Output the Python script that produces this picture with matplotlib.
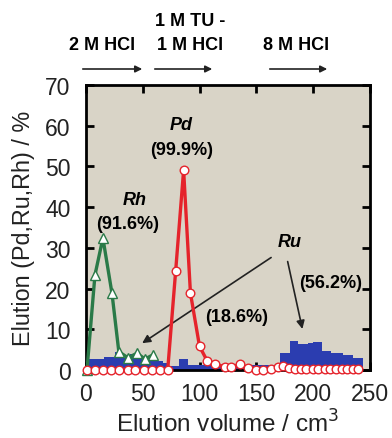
import numpy as np
import matplotlib
matplotlib.use("Agg")
import matplotlib.pyplot as plt

plt.rcParams['font.family'] = ['Liberation Sans', 'DejaVu Sans']

# Pd fractions (elution volume cm3, %)
pd_x = [1, 8, 15, 22, 29, 37, 43, 51, 58, 65, 72, 79, 86, 92, 100, 107, 114, 122, 128,
        136, 143, 150, 156, 163, 169, 173, 179, 184, 189, 194, 200, 204, 210, 215, 220,
        225, 230, 235, 239]
pd_y = [0, 0, 0, 0, 0, 0, 0, 0, 0, 0, 0, 24.3, 49.1, 18.9, 5.8, 2.1, 1.4, 0.8, 0.7,
        1.4, 0.4, 0, 0, 0.2, 0.8, 1.0, 0.6, 0.3, 0.2, 0.2, 0.2, 0.2, 0.2, 0.2, 0.2,
        0.2, 0.2, 0.2, 0.2]

# Rh fractions
rh_x = [1, 8, 15, 23, 29, 37, 45, 52, 59]
rh_y = [0, 23.3, 32.4, 18.8, 4.5, 3.0, 4.1, 2.7, 3.7]

# Ru fractions as step edges
ru_edges = [0, 16, 26, 30, 39, 48, 55, 68, 72, 82, 90, 171, 180, 187, 195, 200, 208,
            216, 226, 235, 244]
ru_y = [2.7, 3.3, 4.5, 2.9, 4.0, 2.9, 2.1, 1.7, 1.0, 2.7, 1.2, 4.1, 7.1, 6.3, 6.6,
        6.8, 4.7, 4.1, 3.6, 3.0]

fig = plt.figure(figsize=(3.92, 4.39), dpi=100)
ax = fig.add_axes([0.219, 0.155, 0.725, 0.649])
ax.set_facecolor('#d9d4c7')

ax.fill_between(ru_edges, ru_y + [ru_y[-1]], step='post', color='#2b3db0',
                linewidth=0, zorder=2)
ax.plot(rh_x, rh_y, color='#2a7a48', lw=2.4, marker='^', ms=6.5, mfc='white',
        mec='#2a7a48', mew=1.0, zorder=3, clip_on=False)
ax.plot(pd_x, pd_y, color='#e5232b', lw=2.4, marker='o', ms=6.2, mfc='white',
        mec='#e5232b', mew=1.0, zorder=4, clip_on=False)

ax.set_xlim(0, 250)
ax.set_ylim(0, 70)
ax.set_xticks([0, 50, 100, 150, 200, 250])
ax.set_yticks(range(0, 71, 10))
ax.tick_params(direction='in', length=6, width=2, labelsize=16.5, top=True, right=True,
               colors='black', labelcolor='#222222')
ax.tick_params(axis='x', pad=9)
ax.tick_params(axis='y', pad=11)
for s in ax.spines.values():
    s.set_linewidth(2)

ax.set_xlabel('Elution volume / cm$^3$', fontsize=17.5, labelpad=3, color='#222222')
ax.set_ylabel('Elution (Pd,Ru,Rh) / %', fontsize=16.8, labelpad=7, color='#222222')

bold = dict(fontsize=13, fontweight='bold', ha='center', va='center')
ax.text(84, 60.2, 'Pd', style='italic', **bold)
ax.text(84, 54.2, '(99.9%)', **bold)
ax.text(43, 41.8, 'Rh', style='italic', **bold)
ax.text(37, 36.0, '(91.6%)', **bold)
ax.text(179, 31.5, 'Ru', style='italic', **bold)
ax.text(133, 13.2, '(18.6%)', **bold)
ax.text(215, 21.6, '(56.2%)', **bold)

ax.annotate('', xy=(47.5, 6.2), xytext=(165, 28),
            arrowprops=dict(arrowstyle='-|>', color='#222222', lw=1.2, mutation_scale=12))
ax.annotate('', xy=(191, 9.4), xytext=(177, 27.3),
            arrowprops=dict(arrowstyle='-|>', color='#222222', lw=1.2, mutation_scale=12))

# eluent labels above the plot
top = dict(fontsize=13, fontweight='bold', ha='center', va='center')
fig.text(102 / 392, 1 - 45 / 439, '2 M HCl', **top)
fig.text(190 / 392, 1 - 22 / 439, '1 M TU -', **top)
fig.text(190 / 392, 1 - 46 / 439, '1 M HCl', **top)
fig.text(296 / 392, 1 - 45 / 439, '8 M HCl', **top)
for x0, x1 in [(80, 145), (152, 215), (267, 330)]:
    fig.add_artist(matplotlib.patches.FancyArrowPatch(
        (x0 / 392, 1 - 70 / 439), (x1 / 392, 1 - 70 / 439), transform=fig.transFigure,
        arrowstyle='-|>', color='#222222', lw=1.2, mutation_scale=10))

fig.savefig('out.png', dpi=100)
